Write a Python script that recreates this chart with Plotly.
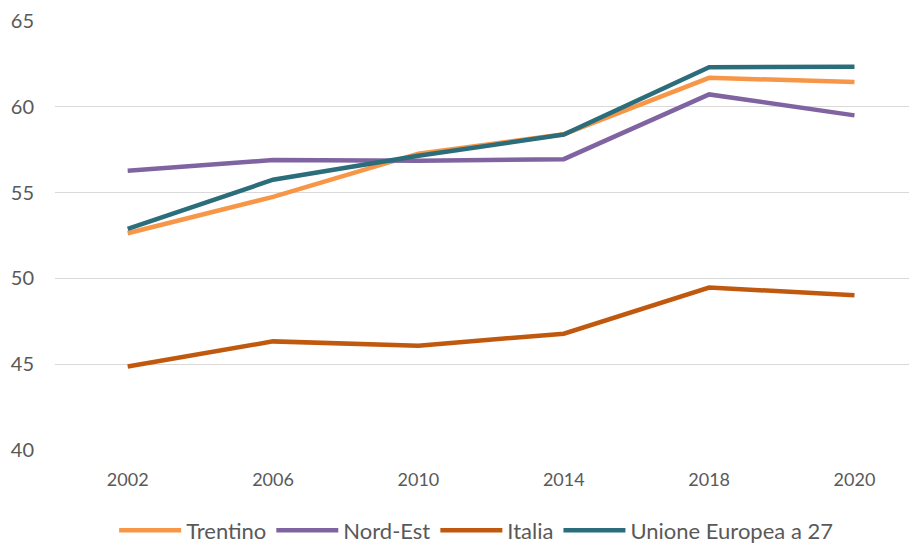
import plotly.graph_objects as go

years = ["2002", "2006", "2010", "2014", "2018", "2020"]
trentino = [52.63, 54.75, 57.27, 58.40, 61.69, 61.44]
nord_est = [56.27, 56.90, 56.85, 56.95, 60.72, 59.50]
italia = [44.87, 46.33, 46.08, 46.78, 49.47, 49.02]
ue27 = [52.88, 55.75, 57.15, 58.38, 62.30, 62.34]
names = ["Trentino", "Nord-Est", "Italia", "Unione Europea a 27"]
colors = ["#F79646", "#8064A2", "#C0590E", "#2B6D7A"]
values = [trentino, nord_est, italia, ue27]

font_family = "Lato, Carlito, Calibri, sans-serif"

fig = go.Figure()
for name, vals, color in zip(names, values, colors):
    fig.add_trace(go.Scatter(
        x=list(range(len(years))), y=vals, name=name, mode="lines",
        line=dict(color=color, width=4.5, shape="linear"),
    ))

# page body has an 8px default margin, so the figure is sized to fit the window
fig.update_layout(
    width=909, height=537,
    margin=dict(l=47, r=0, t=13, b=95),
    plot_bgcolor="white", paper_bgcolor="white",
    font=dict(family=font_family, color="#595959"),
    showlegend=True,
    legend=dict(orientation="h", x=0.515, xanchor="center", xref="container",
                y=0.027, yanchor="middle", yref="container",
                font=dict(size=22, color="#595959"), itemwidth=62,
                traceorder="normal"),
    xaxis=dict(
        tickmode="array", tickvals=list(range(len(years))), ticktext=years,
        range=[-0.5, 5.43], showgrid=False, zeroline=False, showline=False,
        ticks="outside", ticklen=13, tickcolor="rgba(0,0,0,0)",
        tickfont=dict(size=18, color="#595959"),
    ),
    yaxis=dict(
        range=[40, 65], dtick=5, tick0=40, showgrid=True, gridcolor="#D9D9D9",
        gridwidth=1.3, zeroline=False, showline=False,
        ticks="outside", ticklen=16, tickcolor="rgba(0,0,0,0)",
        tickfont=dict(size=20, color="#595959"),
    ),
)

fig.write_html("out.html")
